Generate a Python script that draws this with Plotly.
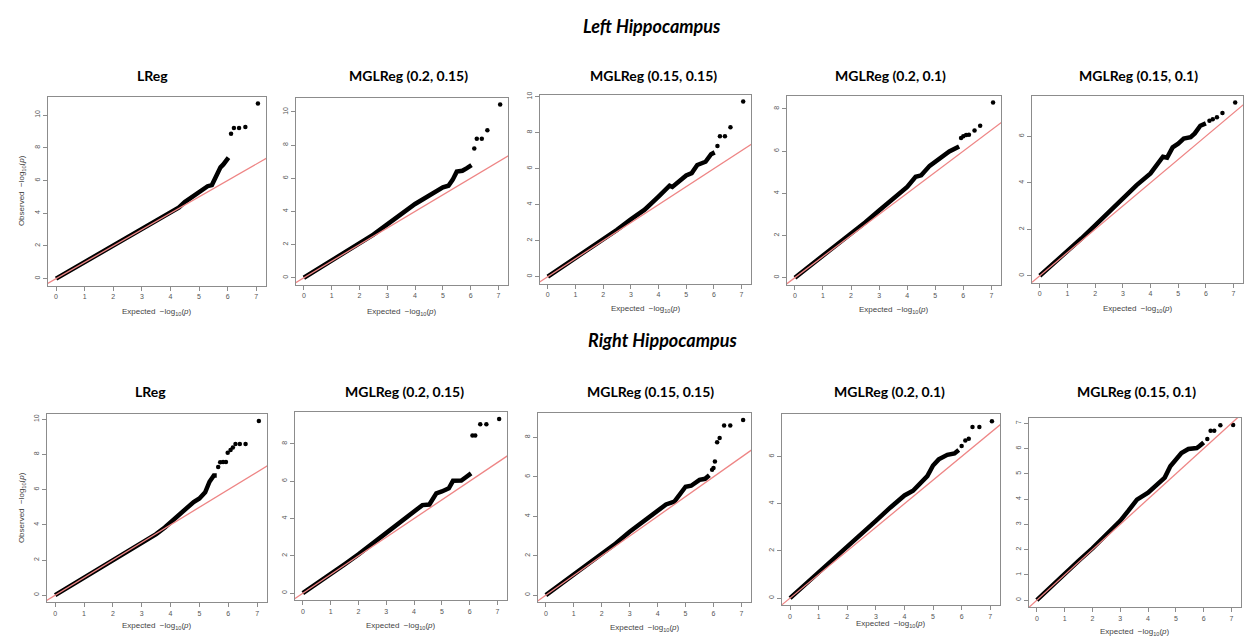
import plotly.graph_objects as go

W, H = 1247, 638

section_titles = ["Left Hippocampus", "Right Hippocampus"]
method_titles = ["LReg", "MGLReg (0.2, 0.15)", "MGLReg (0.15, 0.15)",
                 "MGLReg (0.2, 0.1)", "MGLReg (0.15, 0.1)"]
x_title = "Expected  \u2212log<sub>10</sub>(<i>p</i>)"
y_title = "Observed  \u2212log<sub>10</sub>(<i>p</i>)"

# ---------------- Left hippocampus ----------------
left_lreg_exp = [0, 0.5, 1, 1.5, 2, 2.5, 3, 3.5, 4, 4.3, 4.5, 4.7, 4.9, 5.1, 5.3, 5.45, 5.55, 5.65, 5.75, 5.85, 5.95, 6.03]
left_lreg_obs = [0, 0.5, 1.0, 1.5, 2.0, 2.52, 3.02, 3.5, 4.0, 4.35, 4.68, 4.92, 5.15, 5.45, 5.65, 5.72, 6.1, 6.55, 6.8, 6.98, 7.2, 7.4]
left_lreg_tail_exp = [6.12, 6.22, 6.4, 6.62, 7.06]
left_lreg_tail_obs = [8.85, 9.2, 9.2, 9.27, 10.7]

left_m1_exp = [0, 0.5, 1, 1.5, 2, 2.5, 3, 3.5, 4, 4.3, 4.6, 4.8, 5.0, 5.2, 5.35, 5.5, 5.7, 5.85, 6.03]
left_m1_obs = [0, 0.52, 1.04, 1.55, 2.06, 2.6, 3.22, 3.85, 4.45, 4.75, 5.05, 5.25, 5.45, 5.55, 5.9, 6.4, 6.45, 6.6, 6.8]
left_m1_tail_exp = [6.13, 6.22, 6.4, 6.6, 7.06]
left_m1_tail_obs = [7.8, 8.38, 8.38, 8.9, 10.45]

left_m2_exp = [0, 0.5, 1, 1.5, 2, 2.5, 3, 3.5, 4, 4.2, 4.4, 4.5, 4.7, 5.0, 5.2, 5.4, 5.7, 5.8, 5.9, 6.03]
left_m2_obs = [0, 0.52, 1.03, 1.55, 2.06, 2.6, 3.18, 3.72, 4.45, 4.75, 5.05, 4.98, 5.25, 5.62, 5.75, 6.2, 6.38, 6.6, 6.8, 6.9]
left_m2_tail_exp = [6.13, 6.22, 6.4, 6.6, 7.06]
left_m2_tail_obs = [7.25, 7.8, 7.8, 8.3, 9.72]

left_m3_exp = [0, 0.5, 1, 1.5, 2, 2.5, 3, 3.5, 4, 4.3, 4.5, 4.8, 5.0, 5.2, 5.5, 5.85]
left_m3_obs = [0, 0.52, 1.03, 1.55, 2.08, 2.62, 3.18, 3.73, 4.3, 4.78, 4.85, 5.3, 5.48, 5.72, 5.98, 6.22]
left_m3_tail_exp = [5.92, 6.0, 6.1, 6.2, 6.4, 6.6, 7.06]
left_m3_tail_obs = [6.62, 6.7, 6.76, 6.77, 6.98, 7.2, 8.3]

left_m4_exp = [0, 0.5, 1, 1.5, 2, 2.5, 3, 3.5, 4, 4.3, 4.45, 4.6, 4.8, 5.0, 5.2, 5.45, 5.6, 5.8, 6.0]
left_m4_obs = [0, 0.52, 1.05, 1.6, 2.17, 2.75, 3.33, 3.9, 4.4, 4.88, 5.12, 5.08, 5.52, 5.68, 5.9, 5.96, 6.12, 6.45, 6.55]
left_m4_tail_exp = [6.13, 6.25, 6.4, 6.6, 7.06]
left_m4_tail_obs = [6.66, 6.73, 6.81, 7.0, 7.45]

# ---------------- Right hippocampus ----------------
right_lreg_exp = [0, 0.5, 1, 1.5, 2, 2.5, 3, 3.5, 3.8, 4, 4.3, 4.5, 4.8, 5.0, 5.2, 5.35, 5.5, 5.6]
right_lreg_obs = [0, 0.5, 0.99, 1.5, 2.0, 2.5, 2.99, 3.47, 3.85, 4.13, 4.55, 4.9, 5.3, 5.5, 5.85, 6.45, 6.8, 6.8]
right_lreg_tail_exp = [5.65, 5.72, 5.82, 5.92, 5.98, 6.08, 6.16, 6.25, 6.4, 6.6, 7.06]
right_lreg_tail_obs = [7.28, 7.55, 7.57, 7.57, 8.1, 8.25, 8.4, 8.6, 8.6, 8.6, 9.9]

right_m1_exp = [0, 0.5, 1, 1.5, 2, 2.5, 3, 3.5, 4, 4.3, 4.55, 4.8, 5.0, 5.25, 5.4, 5.7, 5.85, 6.05]
right_m1_obs = [0, 0.5, 1.02, 1.55, 2.08, 2.65, 3.22, 3.78, 4.38, 4.72, 4.75, 5.35, 5.45, 5.62, 6.02, 6.03, 6.2, 6.42]
right_m1_tail_exp = [6.1, 6.2, 6.38, 6.6, 7.06]
right_m1_tail_obs = [8.45, 8.45, 9.05, 9.05, 9.33]

right_m2_exp = [0, 0.5, 1, 1.5, 2, 2.5, 3, 3.5, 4, 4.3, 4.6, 4.8, 5.0, 5.2, 5.5, 5.7, 5.85]
right_m2_obs = [0, 0.52, 1.03, 1.55, 2.06, 2.62, 3.22, 3.75, 4.33, 4.6, 4.75, 5.1, 5.5, 5.55, 5.85, 5.9, 6.08]
right_m2_tail_exp = [5.95, 6.0, 6.05, 6.13, 6.22, 6.38, 6.6, 7.06]
right_m2_tail_obs = [6.36, 6.45, 6.78, 7.75, 7.97, 8.6, 8.6, 8.88]

right_m3_exp = [0, 0.5, 1, 1.5, 2, 2.5, 3, 3.5, 4, 4.3, 4.5, 4.8, 5.0, 5.2, 5.5, 5.75, 5.9]
right_m3_obs = [0, 0.54, 1.08, 1.6, 2.15, 2.7, 3.27, 3.83, 4.35, 4.55, 4.78, 5.17, 5.62, 5.88, 6.07, 6.13, 6.28]
right_m3_tail_exp = [6.0, 6.13, 6.25, 6.38, 6.62, 7.06]
right_m3_tail_obs = [6.45, 6.68, 6.75, 7.25, 7.25, 7.5]

right_m4_exp = [0, 0.5, 1, 1.5, 2, 2.5, 3, 3.3, 3.6, 4.0, 4.3, 4.6, 4.8, 5.0, 5.2, 5.45, 5.75, 5.85, 6.0]
right_m4_obs = [0, 0.53, 1.05, 1.55, 2.05, 2.6, 3.14, 3.55, 3.98, 4.25, 4.58, 4.85, 5.3, 5.55, 5.82, 5.98, 6.02, 6.1, 6.24]
right_m4_tail_exp = [6.13, 6.25, 6.38, 6.6, 7.06]
right_m4_tail_obs = [6.38, 6.7, 6.7, 6.92, 6.93]

panels = [
    (left_lreg_exp, left_lreg_obs, left_lreg_tail_exp, left_lreg_tail_obs),
    (left_m1_exp, left_m1_obs, left_m1_tail_exp, left_m1_tail_obs),
    (left_m2_exp, left_m2_obs, left_m2_tail_exp, left_m2_tail_obs),
    (left_m3_exp, left_m3_obs, left_m3_tail_exp, left_m3_tail_obs),
    (left_m4_exp, left_m4_obs, left_m4_tail_exp, left_m4_tail_obs),
    (right_lreg_exp, right_lreg_obs, right_lreg_tail_exp, right_lreg_tail_obs),
    (right_m1_exp, right_m1_obs, right_m1_tail_exp, right_m1_tail_obs),
    (right_m2_exp, right_m2_obs, right_m2_tail_exp, right_m2_tail_obs),
    (right_m3_exp, right_m3_obs, right_m3_tail_exp, right_m3_tail_obs),
    (right_m4_exp, right_m4_obs, right_m4_tail_exp, right_m4_tail_obs),
]
y_dticks = [2, 2, 2, 2, 2, 2, 2, 2, 2, 1]

# ---------------- layout (pixel boxes: left, right, top, bottom) ----------------
boxes = [
    (48, 266, 94, 284), (296, 508, 95, 283), (540, 751, 92, 282),
    (787, 1001, 93, 283), (1032, 1243, 93, 281),
    (47, 267, 413, 602), (295, 507, 411, 600), (538, 751, 412, 602),
    (782, 1000, 413, 605), (1029, 1241, 417, 607),
]
xtitle_y = [310, 310, 307, 308, 307, 626, 626, 628, 624, 632]
title_x = [152, 408, 653, 890, 1138, 150, 404, 650, 889, 1136]
title_y = [73, 73, 73, 73, 73, 390, 390, 390, 390, 390]
section_pos = [(652, 23), (662, 339)]

BOX_COL = "#8c8c8c"
TICK_FONT = dict(family="Liberation Sans, Arial, sans-serif", size=7, color="#555555")
RED = "#EE8585"

fig = go.Figure()
annotations = []
for i, ((ex, ob, tex, tob), (l, r, t, b), ydt) in enumerate(zip(panels, boxes, y_dticks), start=1):
    sfx = "" if i == 1 else str(i)
    xa, ya = "x" + sfx, "y" + sfx
    xmax = max(ex + tex)
    ymax = max(ob + tob)
    xr = [-0.04 * xmax, 1.04 * xmax]
    yr = [-0.04 * ymax, 1.04 * ymax]
    fig.add_trace(go.Scatter(x=ex, y=ob, mode="lines", xaxis=xa, yaxis=ya,
                             line=dict(color="black", width=4.5), showlegend=False,
                             hoverinfo="skip"))
    fig.add_trace(go.Scatter(x=tex, y=tob, mode="markers", xaxis=xa, yaxis=ya,
                             marker=dict(color="black", size=4.5), showlegend=False,
                             hoverinfo="skip"))
    lo, hi = min(xr[0], yr[0]), max(xr[1], yr[1])
    fig.add_trace(go.Scatter(x=[lo, hi], y=[lo, hi], mode="lines", xaxis=xa, yaxis=ya,
                             line=dict(color=RED, width=1.3), showlegend=False,
                             hoverinfo="skip"))
    common = dict(showline=True, mirror=True, linecolor=BOX_COL, linewidth=1,
                  ticks="outside", ticklen=4, tickcolor=BOX_COL, tickwidth=1,
                  tickfont=TICK_FONT, showgrid=False, zeroline=False, fixedrange=True)
    fig.update_layout(**{
        "xaxis" + sfx: dict(domain=[l / W, r / W], range=xr, anchor=ya, tick0=0, dtick=1, **common),
        "yaxis" + sfx: dict(domain=[1 - b / H, 1 - t / H], range=yr, anchor=xa, tick0=0,
                            dtick=ydt, tickangle=-90, **common),
    })
    annotations.append(dict(text=x_title, x=(l + r) / 2 / W, y=1 - xtitle_y[i - 1] / H,
                            xref="paper", yref="paper", showarrow=False,
                            font=dict(family="Liberation Sans, Arial, sans-serif", size=8, color="#444444"),
                            xanchor="center", yanchor="middle"))
    if i in (1, 6):
        annotations.append(dict(text=y_title, x=22 / W, y=1 - (t + b) / 2 / H,
                                xref="paper", yref="paper", showarrow=False, textangle=-90,
                                font=dict(family="Liberation Sans, Arial, sans-serif", size=8, color="#444444"),
                                xanchor="center", yanchor="middle"))
    annotations.append(dict(text="<b>" + method_titles[(i - 1) % 5] + "</b>",
                            x=title_x[i - 1] / W, y=1 - title_y[i - 1] / H,
                            xref="paper", yref="paper", showarrow=False,
                            font=dict(family="Lato, Open Sans, sans-serif", size=14, color="black"),
                            xanchor="center", yanchor="middle"))

for txt, (sx, sy) in zip(section_titles, section_pos):
    annotations.append(dict(text="<b><i>" + txt + "</i></b>", x=sx / W, y=1 - sy / H,
                            xref="paper", yref="paper", showarrow=False,
                            font=dict(family="Lato, Open Sans, sans-serif", size=18, color="black"),
                            xanchor="center", yanchor="middle"))

fig.update_layout(width=W, height=H, margin=dict(l=0, r=0, t=0, b=0),
                  paper_bgcolor="white", plot_bgcolor="white",
                  annotations=annotations, showlegend=False)

fig.write_html("out.html", config={"displayModeBar": False},
               post_script="document.body.style.margin='0';document.body.style.overflow='hidden';")
